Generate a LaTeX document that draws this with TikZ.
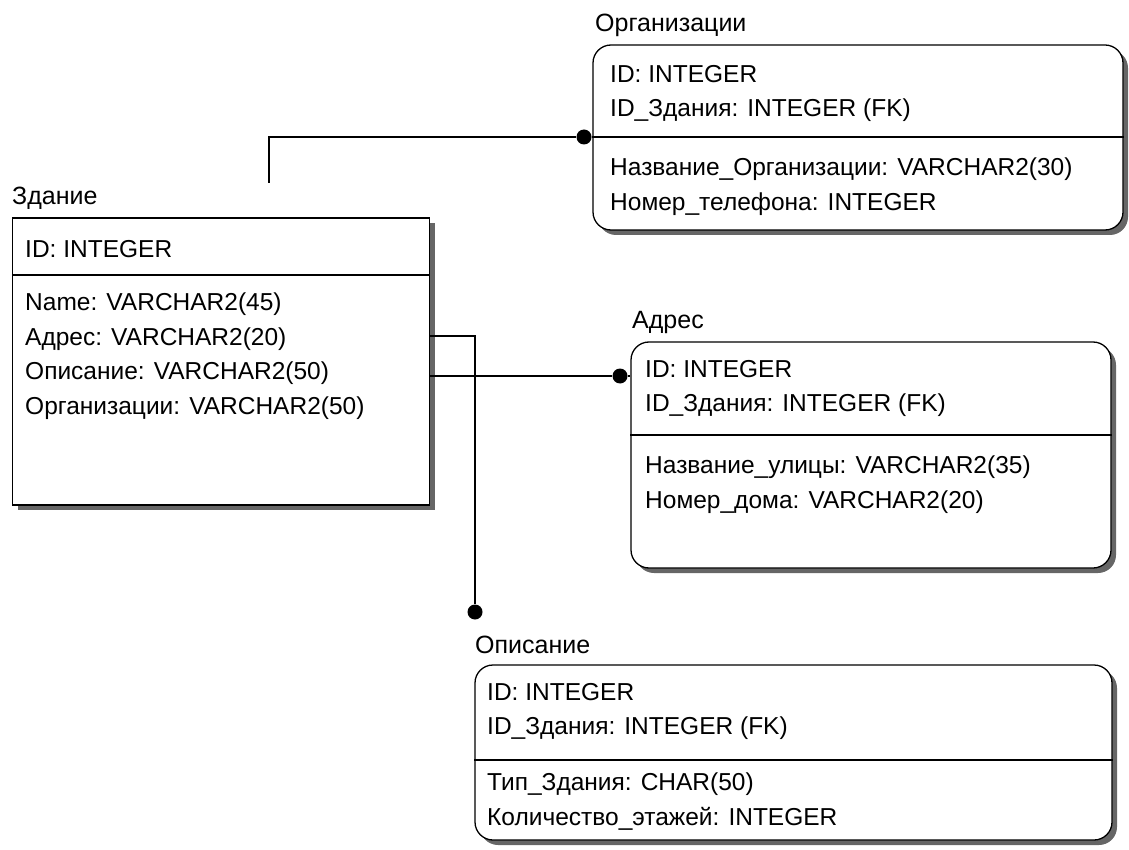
\documentclass[tikz,border=0pt]{standalone}
\usepackage{fontspec}
\setmainfont{Liberation Sans}
\usetikzlibrary{shadows}

\begin{document}
\begin{tikzpicture}[x=1pt, y=-1pt,
    tbl/.style={draw, line width=1.3pt, fill=white, inner sep=0pt,
        drop shadow={shadow xshift=5pt, shadow yshift=-5pt, fill=black!60, opacity=1}},
    rtbl/.style={tbl, rounded corners=18pt},
    ttl/.style={anchor=west, inner sep=0pt, font=\fontsize{25}{29}\selectfont},
    txt/.style={anchor=north west, align=left, inner sep=0pt, font=\fontsize{24.5}{34.5}\selectfont},
    dot/.style={circle, fill=black, inner sep=0pt, minimum size=15pt},
    link/.style={line width=1.6pt}]
    \useasboundingbox (0,0) rectangle (1129,850);

    % Здание
    \node[ttl] (zdT) at (12,198) {Здание};
    \node[tbl, minimum width=417pt, minimum height=287pt] (zd) at (221,361.5) {};
    \node[txt] (zdK) at (25,240) {ID: INTEGER};
    \node[txt] (zdA) at (25,293) {Name: VARCHAR2(45)\\Адрес: VARCHAR2(20)\\Описание: VARCHAR2(50)\\Организации: VARCHAR2(50)};
    \draw[line width=1.3pt] (zd.west |- 0,275) -- (zd.east |- 0,275);

    % Организации
    \node[ttl] (orgT) at (595,25) {Организации};
    \node[rtbl, minimum width=530pt, minimum height=185pt] (org) at (858,137.5) {};
    \node[txt] (orgK) at (610,65) {ID: INTEGER\\ID\_Здания: INTEGER (FK)};
    \node[txt] (orgA) at (610,158) {Название\_Организации: VARCHAR2(30)\\Номер\_телефона: INTEGER};
    \draw[line width=1.3pt] (org.west |- 0,137) -- (org.east |- 0,137);

    % Адрес
    \node[ttl] (adrT) at (632,322) {Адрес};
    \node[rtbl, minimum width=480pt, minimum height=226pt] (adr) at (871,455) {};
    \node[txt] (adrK) at (645,360) {ID: INTEGER\\ID\_Здания: INTEGER (FK)};
    \node[txt] (adrA) at (645,456) {Название\_улицы: VARCHAR2(35)\\Номер\_дома: VARCHAR2(20)};
    \draw[line width=1.3pt] (adr.west |- 0,435) -- (adr.east |- 0,435);

    % Описание
    \node[ttl] (opT) at (475,645) {Описание};
    \node[rtbl, minimum width=637pt, minimum height=175pt] (op) at (793.5,752.5) {};
    \node[txt] (opK) at (487,683) {ID: INTEGER\\ID\_Здания: INTEGER (FK)};
    \node[txt] (opA) at (487,773) {Тип\_Здания: CHAR(50)\\Количество\_этажей: INTEGER};
    \draw[line width=1.3pt] (op.west |- 0,760) -- (op.east |- 0,760);

    % связи
    \coordinate (zdS) at (269,183);
    \node[dot] (orgD) at (584,137) {};
    \node[dot] (adrD) at (620,376) {};
    \node[dot] (opD) at (475,612) {};
    \draw[link] (zdS) |- (orgD) -- (orgD -| org.west);
    \draw[link] (zd.east |- adrD) -- (adrD) -- (adrD -| adr.west);
    \draw[link] (zd.east |- 0,336) -| (opD);
\end{tikzpicture}
\end{document}
